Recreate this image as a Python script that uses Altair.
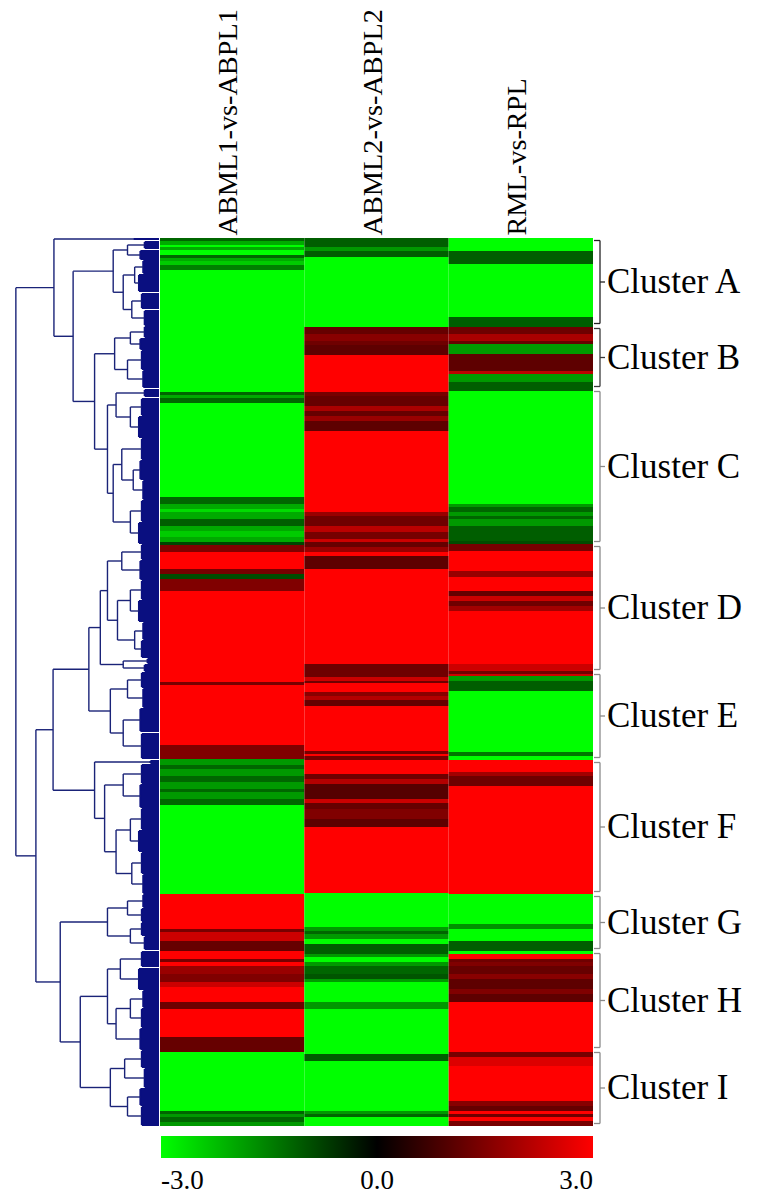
import altair as alt
import pandas as pd

# ---------------- data ----------------
COLUMNS = ["ABML1-vs-ABPL1", "ABML2-vs-ABPL2", "RML-vs-RPL"]
N_ROWS = 888  # row units (two rows per gene)

# run starts (row index) and log2 fold-change values for each comparison
COL1_START = [0, 3, 7, 9, 12, 17, 20, 23, 27, 32, 154, 157, 160, 165, 259, 266, 271, 274, 281, 288,
              291, 293, 299, 304, 307, 314, 331, 336, 341, 353, 444, 447, 507, 521, 527, 531, 538, 544, 551, 554,
              561, 567, 656, 691, 694, 703, 713, 721, 724, 728, 736, 744, 749, 764, 771, 799, 814, 873, 876, 879,
              884]
COL1_VALUE = [-1.2, -2, -3, -2, -3, -1.2, -2, -2.4, -1.5, -3, -1.2, -2, -1.2, -3, -1.2, -2, -2.6, -2, -1.1, -2,
              -2, -2.4, -2, -0.8, 1.5, 3, 1.4, -0.9, 1.5, 3, 1.4, 3, 1.5, -1.8, -1.2, -1.8, -1.2, -1.8, -1.2, -1.8,
              -1.2, -3, 3, 1.4, 2.4, 1.2, 3, 1.4, 3, 1.8, 1.5, 2.4, 3, 1.3, 3, 1.2, -3, -1.2, -1.8, -1.2,
              -1.8]

COL2_START = [0, 9, 13, 19, 89, 96, 103, 107, 117, 154, 158, 168, 173, 178, 183, 193, 274, 278, 288, 294,
              301, 304, 309, 314, 318, 331, 426, 439, 443, 445, 454, 458, 462, 468, 513, 516, 518, 522, 536, 541,
              546, 561, 565, 571, 581, 589, 655, 689, 693, 696, 701, 706, 716, 719, 724, 728, 736, 741, 744, 764,
              771, 816, 823, 873, 876, 879]
COL2_VALUE = [-1.1, -1.8, -1.1, -3, 1.2, 1.6, 1.3, 1.1, 3, 1.4, 1.2, 2.0, 1.2, 1.8, 1.1, 3, 1.8, 1.3, 2.2, 1.4,
              2.4, 1.2, 1.8, 3, 1.1, 3, 1.3, 2.4, 1.3, 3, 1.6, 2.1, 1.2, 3, 1.4, 3, 1.4, 3, 1.3, 2.1,
              1.0, 2.4, 1.2, 1.5, 1.1, 3, -3, -1.8, -1.2, -1.8, -3, -1.1, -1.8, -3, -1.8, -1.2, -1.0, -1.8, -3, -1.8,
              -3, -1.1, -3, -1.8, -1.2, -3]

COL3_START = [0, 13, 26, 79, 89, 96, 103, 106, 116, 133, 136, 144, 153, 266, 269, 274, 278, 281, 288, 303,
              306, 313, 333, 339, 353, 358, 363, 368, 373, 426, 433, 436, 438, 443, 453, 514, 518, 522, 534, 538,
              548, 656, 686, 691, 703, 713, 716, 721, 724, 728, 736, 741, 751, 756, 764, 814, 819, 828, 863, 868,
              873, 876, 879, 883]
COL3_VALUE = [-3, -1.1, -3, -1.1, 1.3, 2.0, 1.2, -1.8, 1.1, 2.2, -1.8, -1.1, -3, -1.8, -1.2, -1.8, -1.2, -1.8, -1.1, -0.9,
              1.4, 3, 1.8, 3, 1.2, 2.4, 1.3, 1.9, 3, 2.4, 1.3, 2.4, -1.8, -1.1, -3, -1.4, -3, 3, 1.9, 1.3,
              3, -3, -1.7, -3, -1.1, -3, 3, 1.3, 1.5, 1.2, 1.6, 1.1, 1.5, 1.1, 3, 1.4, 2.6, 3, 1.6, 1.2,
              3, 1.3, 3, 1.4]

CLUSTERS = ["Cluster A", "Cluster B", "Cluster C", "Cluster D", "Cluster E",
            "Cluster F", "Cluster G", "Cluster H", "Cluster I"]
CLUSTER_BOUNDS = [0, 88, 151, 306, 434, 522, 656, 713, 812, 888]

LEGEND_VALUES = [-3.0, 0.0, 3.0]

# dendrogram: ("n", linkage height, left, right) or ("g", first row, last row, height)
def N(h, a, b):
    return ("n", h, a, b)

def G(r0, r1, h):
    return ("g", r0, r1, h)

TREE_A = N(0.32, N(0.22, G(3, 12, 0.10), G(12, 22, 0.13)),
           N(0.25, N(0.17, G(22, 36, 0.11), G(36, 55, 0.14)), N(0.19, G(55, 72, 0.12), G(72, 88, 0.10))))
TREE_B = N(0.31, N(0.20, G(88, 100, 0.10), G(100, 112, 0.13)), N(0.22, G(112, 132, 0.12), G(132, 151, 0.11)))
TREE_C = N(0.36, N(0.30, G(151, 160, 0.10), N(0.20, G(160, 178, 0.12), G(178, 200, 0.14))),
           N(0.32, N(0.26, G(200, 222, 0.12), N(0.18, G(222, 242, 0.13), G(242, 262, 0.11))),
             N(0.20, G(262, 284, 0.12), G(284, 306, 0.14))))
TREE_D = N(0.41, N(0.36, N(0.26, G(306, 322, 0.12), G(322, 342, 0.13)),
                   N(0.29, N(0.20, G(342, 362, 0.12), G(362, 384, 0.14)), N(0.17, G(384, 402, 0.11), G(402, 420, 0.12)))),
           N(0.25, G(420, 426, 0.08), G(426, 434, 0.10)))
TREE_E = N(0.34, N(0.22, G(434, 450, 0.12), G(450, 470, 0.11)), N(0.25, G(470, 495, 0.13), G(495, 522, 0.12)))
TREE_F = N(0.45, G(522, 526, 0.06),
           N(0.38, N(0.25, G(526, 546, 0.12), G(546, 570, 0.13)),
             N(0.30, N(0.20, G(570, 592, 0.12), G(592, 614, 0.14)), N(0.19, G(614, 636, 0.12), G(636, 656, 0.11)))))
TREE_G = N(0.36, N(0.22, G(656, 670, 0.11), G(670, 684, 0.12)), N(0.20, G(684, 698, 0.12), G(698, 713, 0.10)))
TREE_H = N(0.36, N(0.27, G(713, 730, 0.12), G(730, 752, 0.14)),
           N(0.30, N(0.20, G(752, 770, 0.11), G(770, 790, 0.12)), G(790, 812, 0.13)))
TREE_I = N(0.34, N(0.24, G(812, 830, 0.12), G(830, 850, 0.10)), N(0.22, G(850, 868, 0.13), G(868, 888, 0.12)))

TREE = N(1.0,
         N(0.734, G(0, 3, 0.18), N(0.60, TREE_A, N(0.45, TREE_B, TREE_C))),
         N(0.86, N(0.74, N(0.49, TREE_D, TREE_E), TREE_F),
           N(0.69, TREE_G, N(0.55, TREE_H, TREE_I))))

# ---------------- tables ----------------
heat_rows = []
for name, starts, vals in zip(COLUMNS, [COL1_START, COL2_START, COL3_START],
                              [COL1_VALUE, COL2_VALUE, COL3_VALUE]):
    ends = starts[1:] + [N_ROWS]
    for s, e, v in zip(starts, ends, vals):
        heat_rows.append({"col": name, "r0": s, "r1": e, "value": v})
heat_df = pd.DataFrame(heat_rows)

segs = []

def walk(node):
    if node[0] == "g":
        _, r0, r1, h = node
        leaves = list(range(r0 + 1, r1, 2))
        for r in leaves:
            segs.append({"h0": 0.0, "h1": h, "y0": r, "y1": r, "kind": "leaf"})
        segs.append({"h0": h, "h1": h, "y0": leaves[0], "y1": leaves[-1], "kind": "leaf"})
        return (leaves[0] + leaves[-1]) / 2.0, h
    _, h, a, b = node
    ya, ha = walk(a)
    yb, hb = walk(b)
    segs.append({"h0": ha, "h1": h, "y0": ya, "y1": ya, "kind": "branch"})
    segs.append({"h0": hb, "h1": h, "y0": yb, "y1": yb, "kind": "branch"})
    segs.append({"h0": h, "h1": h, "y0": ya, "y1": yb, "kind": "branch"})
    return (ya + yb) / 2.0, h

walk(TREE)
seg_df = pd.DataFrame(segs)

INSET = 2.5
br_df = pd.DataFrame({
    "name": CLUSTERS,
    "b0": [s + INSET for s in CLUSTER_BOUNDS[:-1]],
    "b1": [e - INSET for e in CLUSTER_BOUNDS[1:]],
})
br_df["mid"] = (br_df["b0"] + br_df["b1"]) / 2.0

# ---------------- styles ----------------
SERIF = "Liberation Serif"
DENDRO_COLOR = "#1a2378"
LEAF_COLOR = "#0a0f80"
BRACKET_COLORS = ["#222222", "#3a3a3a", "#8a8a8a", "#8a8a8a", "#8a8a8a",
                  "#8a8a8a", "#8a8a8a", "#8a8a8a", "#8a8a8a"]
PANEL_H = 888

yscale = alt.Scale(domain=[0, N_ROWS], reverse=True, nice=False, zero=False)
xdend = alt.Scale(domain=[0, 1.02], reverse=True, nice=False, zero=False)

dbase = alt.Chart(seg_df).encode(
    x=alt.X("h0:Q", scale=xdend, axis=None),
    x2="h1:Q",
    y=alt.Y("y0:Q", scale=yscale, axis=None),
    y2="y1:Q",
)
leaf_lines = dbase.transform_filter(alt.datum.kind == "leaf").mark_rule(color=LEAF_COLOR, strokeWidth=2)
branch_lines = dbase.transform_filter(alt.datum.kind == "branch").mark_rule(color=DENDRO_COLOR, strokeWidth=1.4)
dendro = alt.layer(leaf_lines, branch_lines).properties(width=146, height=PANEL_H)

heat = alt.Chart(heat_df).mark_rect().encode(
    x=alt.X("col:N", sort=COLUMNS, scale=alt.Scale(paddingInner=0, paddingOuter=0),
            axis=alt.Axis(orient="top", labelAngle=-90, labelFont=SERIF, labelFontSize=28.3,
                          labelColor="black", labelPadding=3, domain=False, ticks=False,
                          title=None, labelLimit=400, labelOffset=-3,
                          minExtent=226, maxExtent=226)),
    y=alt.Y("r0:Q", scale=yscale, axis=None),
    y2="r1:Q",
    color=alt.Color("value:Q",
                    scale=alt.Scale(domain=[-3, 0, 3], range=["#00ff00", "#000000", "#ff0000"],
                                    interpolate="rgb"),
                    legend=alt.Legend(orient="none", legendX=1, legendY=898, direction="horizontal",
                                      gradientLength=432, gradientThickness=22, title=None,
                                      values=LEGEND_VALUES, labelFont=SERIF, labelFontSize=27,
                                      labelColor="black", labelOffset=10, gradientStrokeWidth=0,
                                      labelExpr="datum.value < 0 ? '-' + format(-datum.value, '.1f') : format(datum.value, '.1f')")),
).properties(width=433, height=PANEL_H)

bcolor = alt.Color("name:N", scale=alt.Scale(domain=CLUSTERS, range=BRACKET_COLORS), legend=None)
base = alt.Chart(br_df).encode(color=bcolor)
vline = base.mark_rule(strokeWidth=1.3).encode(
    x=alt.value(7), y=alt.Y("b0:Q", scale=yscale, axis=None), y2="b1:Q")
top_hook = base.mark_rule(strokeWidth=1.3).encode(
    x=alt.value(1), x2=alt.value(7), y=alt.Y("b0:Q", scale=yscale, axis=None))
bot_hook = base.mark_rule(strokeWidth=1.3).encode(
    x=alt.value(1), x2=alt.value(7), y=alt.Y("b1:Q", scale=yscale, axis=None))
mid_tick = base.mark_rule(strokeWidth=1.3).encode(
    x=alt.value(7), x2=alt.value(12), y=alt.Y("mid:Q", scale=yscale, axis=None))
labels = alt.Chart(br_df).mark_text(align="left", baseline="middle", font=SERIF, fontSize=35,
                                    color="black").encode(
    x=alt.value(14), y=alt.Y("mid:Q", scale=yscale, axis=None), text="name:N")
brackets = alt.layer(vline, top_hook, bot_hook, mid_tick, labels).properties(width=160, height=PANEL_H)

chart = alt.hconcat(dendro, heat, brackets, spacing=0).resolve_scale(
    color="independent"
).properties(
    padding={"left": 5, "top": 0, "right": 0, "bottom": 0},
    background="white",
).configure_view(strokeWidth=0)

chart.save("out.html", embed_options={"renderer": "svg", "actions": False})
